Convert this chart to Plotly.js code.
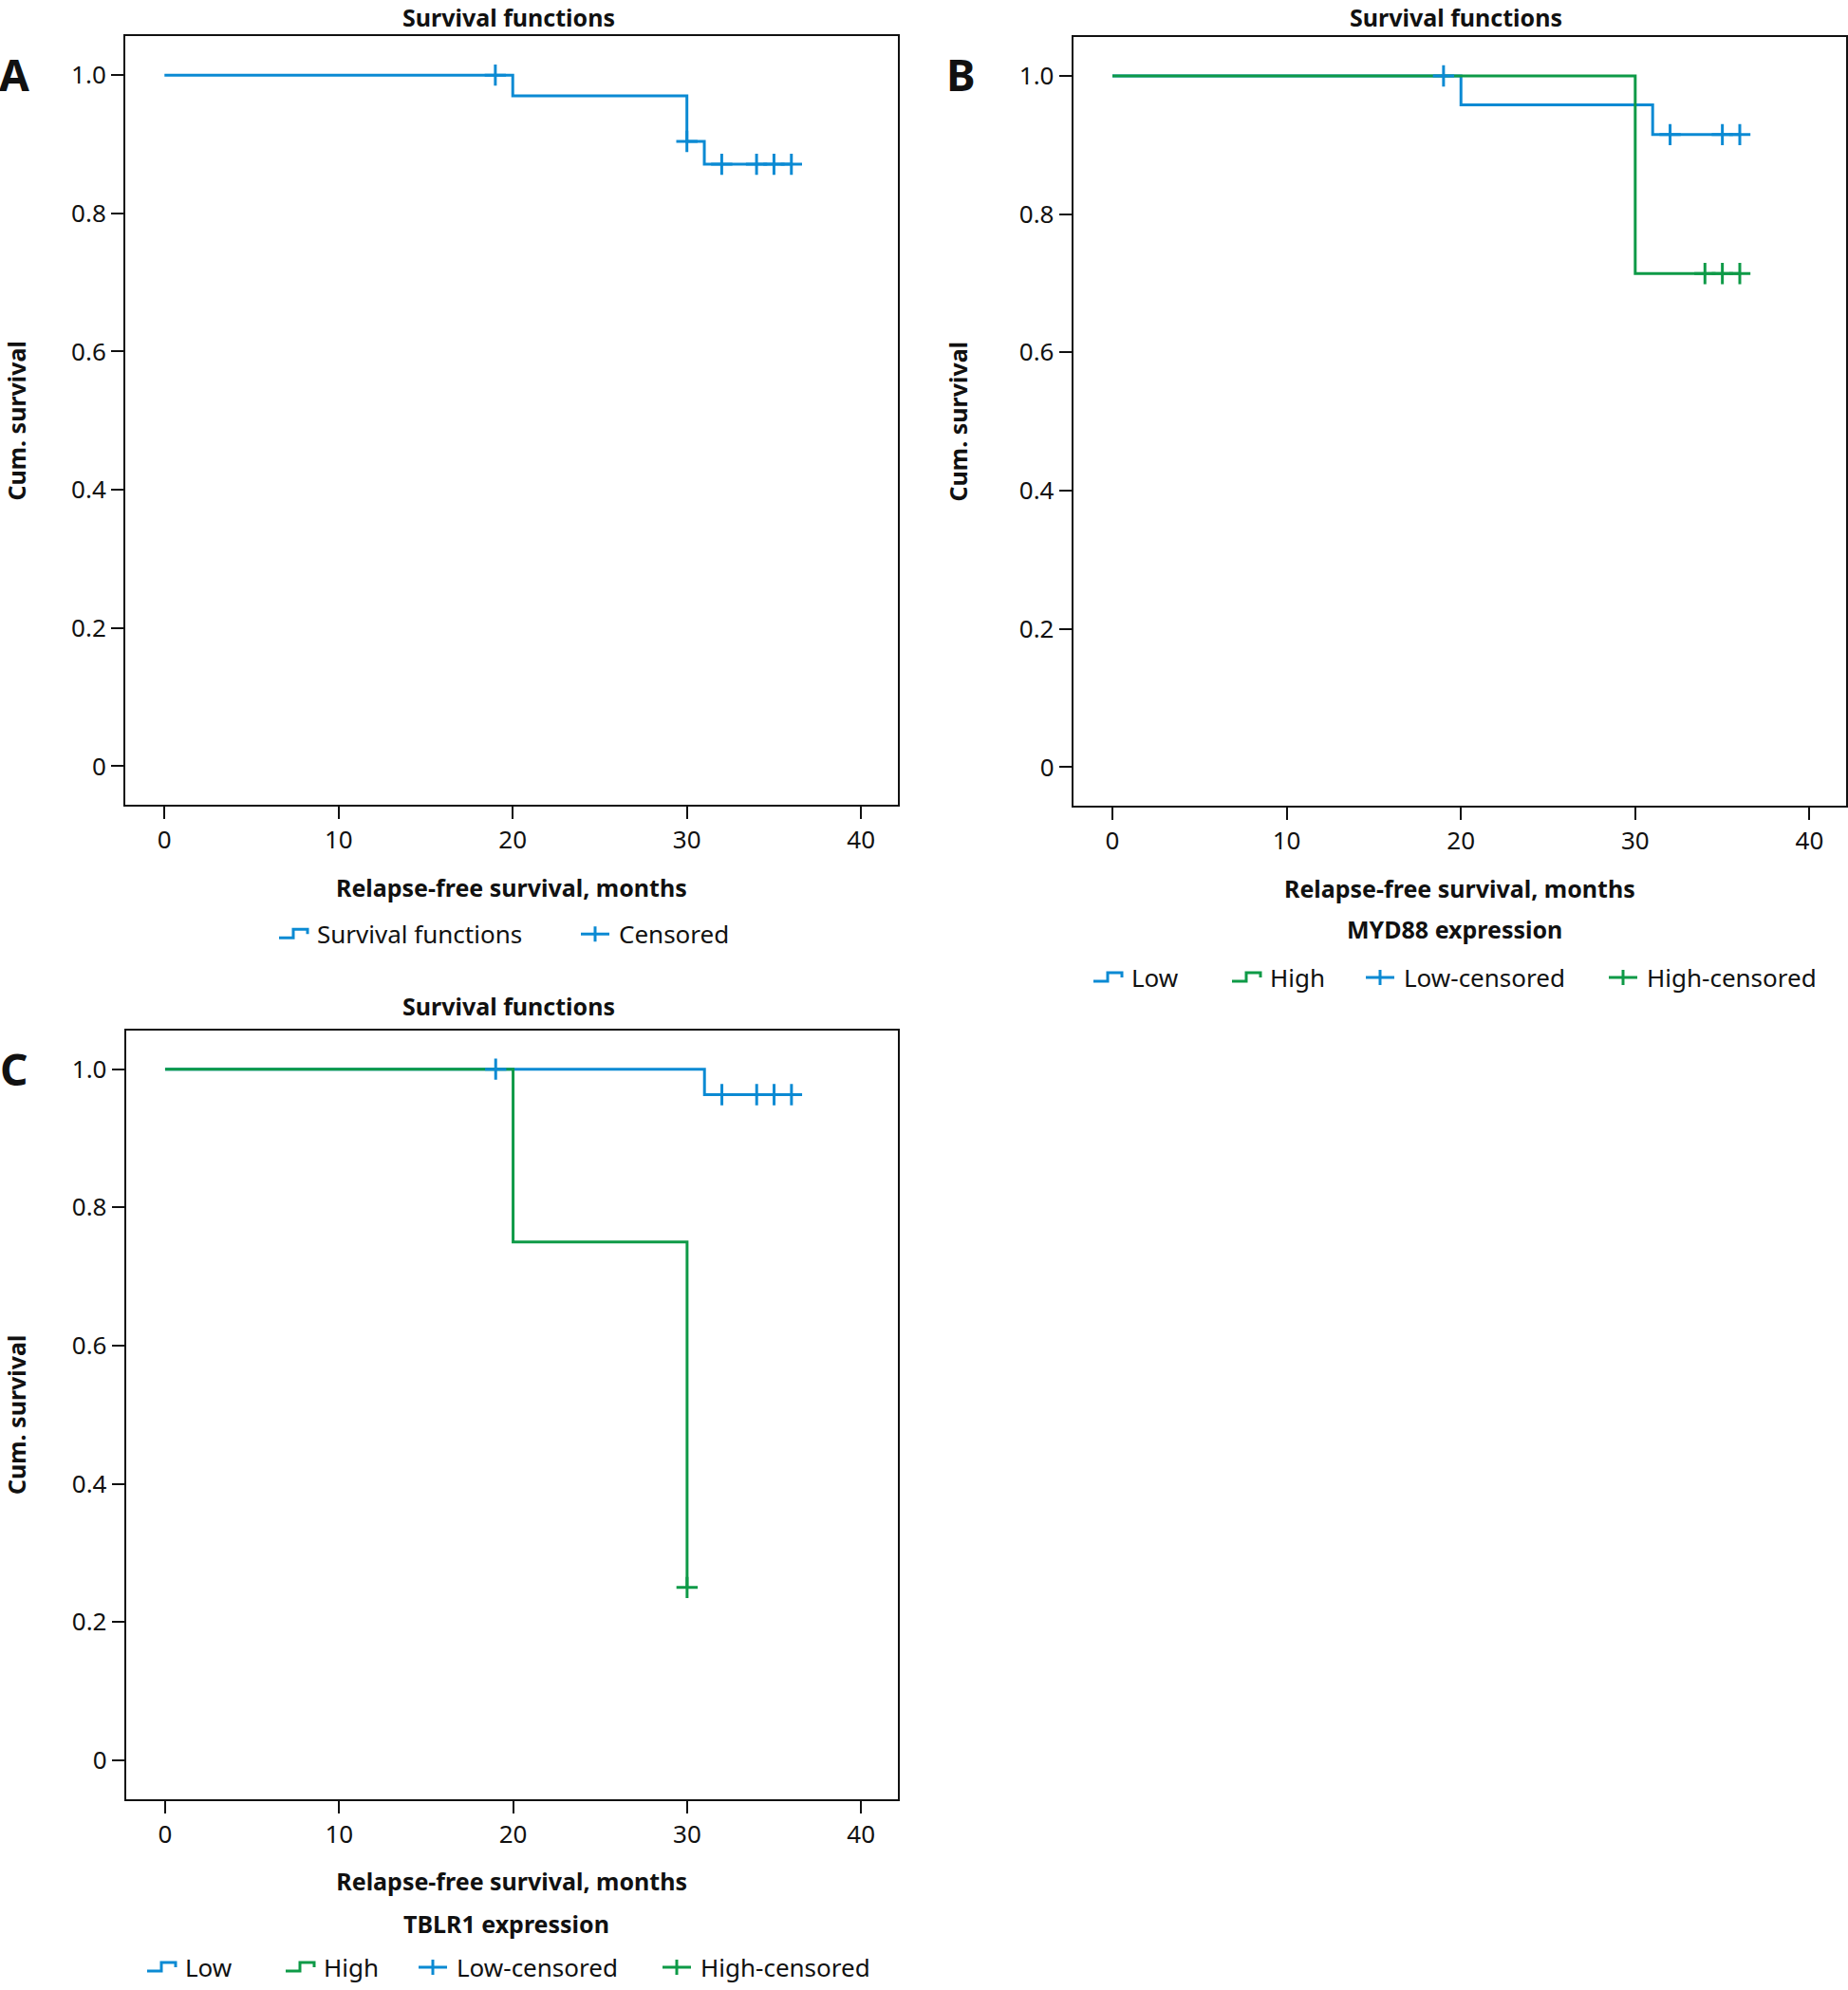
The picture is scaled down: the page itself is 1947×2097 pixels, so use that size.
<!DOCTYPE html>
<html><head><meta charset="utf-8">
<script src="https://cdn.plot.ly/plotly-3.0.1.min.js"></script>
<style>html,body{margin:0;padding:0;background:#fff}#chart{width:1947px;height:2097px}</style>
</head><body><div id="chart"></div>
<script>
// ---------- data ----------
const xTickVals = [0, 10, 20, 30, 40];
const xTickText = ['0', '10', '20', '30', '40'];
const yTickVals = [0, 0.2, 0.4, 0.6, 0.8, 1.0];
const yTickText = ['0', '0.2', '0.4', '0.6', '0.8', '1.0'];

// Panel A – all patients
const aTime = [0, 20, 30, 31, 36];
const aSurv = [1, 0.970, 0.904, 0.871, 0.871];
const aCensTime = [19, 30, 32, 34, 35, 36];
const aCensSurv = [1, 0.904, 0.871, 0.871, 0.871, 0.871];

// Panel B – MYD88 expression
const bLowTime = [0, 20, 31, 36];
const bLowSurv = [1, 0.958, 0.915, 0.915];
const bHighTime = [0, 30, 36];
const bHighSurv = [1, 0.714, 0.714];
const bLowCensTime = [19, 32, 35, 36];
const bLowCensSurv = [1, 0.915, 0.915, 0.915];
const bHighCensTime = [34, 35, 36];
const bHighCensSurv = [0.714, 0.714, 0.714];

// Panel C – TBLR1 expression
const cLowTime = [0, 31, 36];
const cLowSurv = [1, 0.963, 0.963];
const cHighTime = [0, 20, 30];
const cHighSurv = [1, 0.75, 0.25];
const cLowCensTime = [19, 32, 34, 35, 36];
const cLowCensSurv = [1, 0.963, 0.963, 0.963, 0.963];
const cHighCensTime = [30];
const cHighCensSurv = [0.25];

const panelTitle = 'Survival functions';
const xTitle = 'Relapse-free survival, months';
const yTitle = 'Cum. survival';
const bLegendTitle = 'MYD88 expression';
const cLegendTitle = 'TBLR1 expression';

// ---------- styling ----------
const BLUE = '#0b8ad3';
const GREEN = '#0e9a47';
const FONT = 'Noto Sans, Open Sans, sans-serif';
const W = 1947, H = 2097;
const px = v => v / W;
const py = v => 1 - v / H;

function step(x, y, name, color, ax, lg) {
  return {type: 'scatter', mode: 'lines', x: x, y: y, name: name,
    line: {shape: 'hv', color: color, width: 3},
    xaxis: 'x' + ax, yaxis: 'y' + ax, legend: lg, hoverinfo: 'skip'};
}
function cens(x, y, name, color, ax, lg) {
  return {type: 'scatter', mode: 'markers', x: x, y: y, name: name,
    marker: {symbol: 'cross-thin-open', size: 16, color: color, line: {color: color, width: 3}},
    xaxis: 'x' + ax, yaxis: 'y' + ax, legend: lg, hoverinfo: 'skip'};
}

const data = [
  step(aTime, aSurv, 'Survival functions', BLUE, '', 'legend'),
  cens(aCensTime, aCensSurv, 'Censored', BLUE, '', 'legend2'),

  step(bLowTime, bLowSurv, 'Low', BLUE, '2', 'legend3'),
  step(bHighTime, bHighSurv, 'High', GREEN, '2', 'legend4'),
  cens(bLowCensTime, bLowCensSurv, 'Low-censored', BLUE, '2', 'legend5'),
  cens(bHighCensTime, bHighCensSurv, 'High-censored', GREEN, '2', 'legend6'),

  step(cLowTime, cLowSurv, 'Low', BLUE, '3', 'legend7'),
  step(cHighTime, cHighSurv, 'High', GREEN, '3', 'legend8'),
  cens(cLowCensTime, cLowCensSurv, 'Low-censored', BLUE, '3', 'legend9'),
  cens(cHighCensTime, cHighCensSurv, 'High-censored', GREEN, '3', 'legend10')
];

const tickFont = {family: FONT, size: 26, color: '#111'};
const titleFont = {family: FONT, size: 25, color: '#111', weight: 'bold'};

function xa(domain, anchor) {
  return {domain: domain, anchor: anchor, range: [-2.25, 42.1], tickmode: 'array',
    tickvals: xTickVals, ticktext: xTickText, ticks: 'outside', ticklen: 13, tickwidth: 2,
    tickcolor: '#111', showline: true, linecolor: '#111', linewidth: 2, mirror: true,
    showgrid: false, zeroline: false, tickfont: tickFont, automargin: false,
    title: {text: xTitle, font: titleFont, standoff: 26}};
}
function ya(domain, anchor) {
  return {domain: domain, anchor: anchor, range: [-0.056, 1.056], tickmode: 'array',
    tickvals: yTickVals, ticktext: yTickText, ticks: 'outside', ticklen: 13, tickwidth: 2,
    tickcolor: '#111', showline: true, linecolor: '#111', linewidth: 2, mirror: true,
    showgrid: false, zeroline: false, tickfont: tickFont, automargin: false,
    title: {text: yTitle, font: titleFont, standoff: 47}};
}

function lg(xPix, yPix) {
  return {x: px(xPix), y: py(yPix), xanchor: 'left', yanchor: 'middle', orientation: 'h',
    font: {family: FONT, size: 26, color: '#111'}, bgcolor: 'rgba(0,0,0,0)',
    borderwidth: 0, itemclick: false, itemdoubleclick: false, tracegroupgap: 0};
}

function ann(text, xPix, yPix, size, bold, yanchor) {
  return {text: text, x: px(xPix), y: py(yPix), xref: 'paper', yref: 'paper',
    xanchor: 'center', yanchor: yanchor || 'middle', showarrow: false, borderpad: 0,
    font: {family: FONT, size: size, color: '#111', weight: bold ? 'bold' : 'normal'}};
}

const layout = {
  width: W, height: H, margin: {l: 0, r: 0, t: 0, b: 0},
  paper_bgcolor: '#fff', plot_bgcolor: '#fff', showlegend: true,
  xaxis: xa([132 / W, 945.7 / W], 'y'),
  yaxis: ya([py(851.5), py(38.5)], 'x'),
  xaxis2: xa([1130.7 / W, 1945 / W], 'y2'),
  yaxis2: ya([py(852.5), py(39.3)], 'x2'),
  xaxis3: xa([132.7 / W, 945.7 / W], 'y3'),
  yaxis3: ya([py(1903), py(1090)], 'x3'),
  legend: lg(294, 988), legend2: lg(612, 988),
  legend3: lg(1152, 1034), legend4: lg(1298, 1034), legend5: lg(1439, 1034), legend6: lg(1695, 1034),
  legend7: lg(155, 2081), legend8: lg(301, 2081), legend9: lg(441, 2081), legend10: lg(698, 2081),
  annotations: [
    ann(panelTitle, 536, 0, 25, true, 'top'),
    ann(panelTitle, 1534, 0, 25, true, 'top'),
    ann(panelTitle, 536, 1064, 25, true),
    ann(bLegendTitle, 1532, 983, 25, true),
    ann(cLegendTitle, 533, 2035, 25, true),
    ann('A', 15, 78, 46, true),
    ann('B', 1012, 78, 46, true),
    ann('C', 15, 1130, 46, true)
  ]
};

Plotly.newPlot('chart', data, layout, {staticPlot: true, displayModeBar: false}).then(gd => {
  // SPSS-style legend icons: step glyph for curves, wide plus for censor marks
  gd.querySelectorAll('.legendlines path').forEach(p => p.setAttribute('d', 'M0,4h15v-9h15v5'));
  gd.querySelectorAll('.legendpoints path.scatterpts').forEach(p => p.setAttribute('d', 'M-20,0H10M-5,-8V8'));
});
</script>
</body></html>
